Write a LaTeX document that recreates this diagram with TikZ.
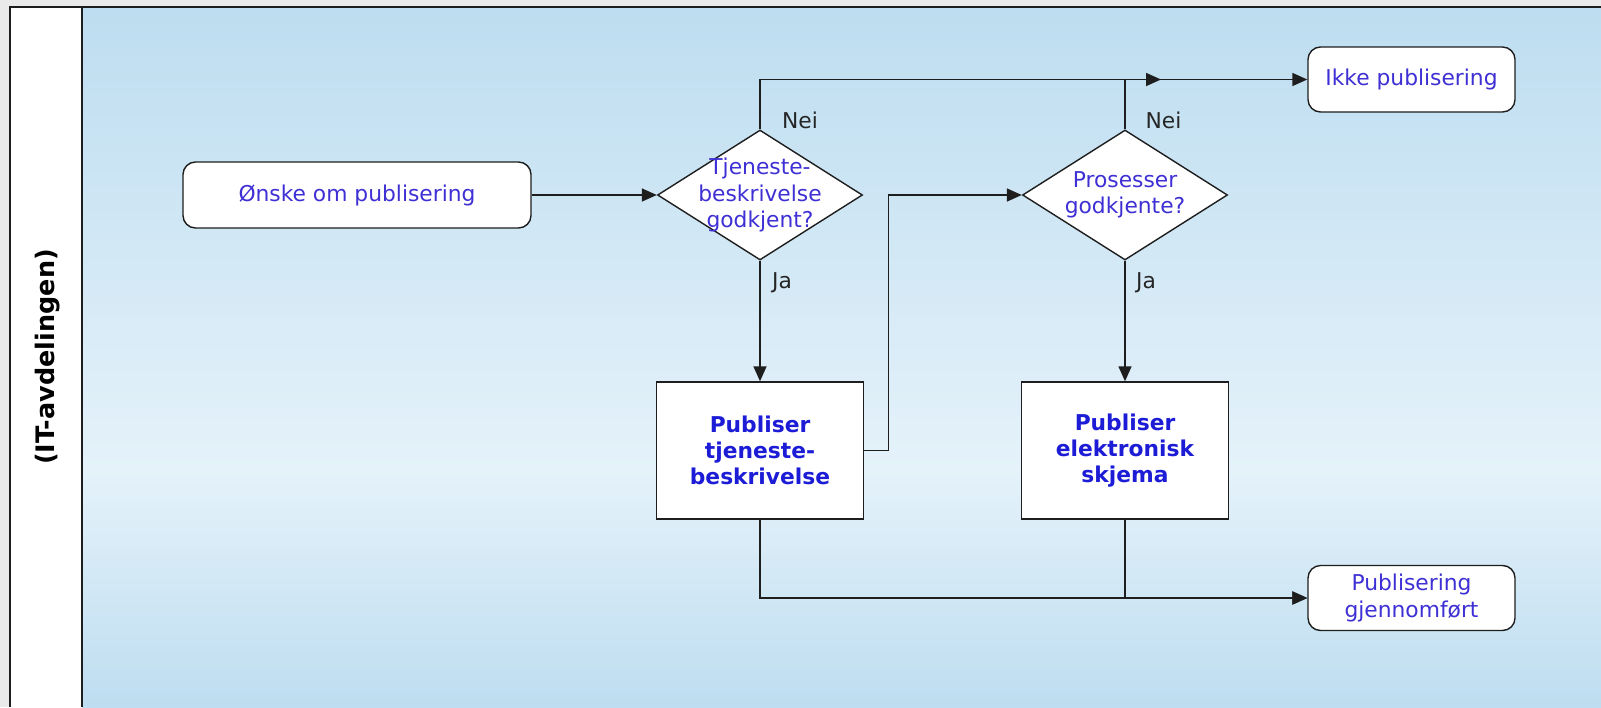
\documentclass[tikz,border=0pt]{standalone}
\usepackage{fontspec}
\setmainfont{DejaVu Sans}
\usetikzlibrary{shapes.geometric,arrows.meta}
\definecolor{pagebg}{RGB}{234,234,234}
\definecolor{lanetop}{RGB}{189,221,240}
\definecolor{lanemid}{RGB}{229,242,250}
\definecolor{txtblue}{RGB}{62,48,212}
\definecolor{boldblue}{RGB}{28,28,215}
\definecolor{linec}{RGB}{30,30,30}

\begin{document}
\begin{tikzpicture}[font=\fontsize{12.4}{15}\selectfont,
    terminal/.style={draw=linec,fill=white,line width=0.8pt,text=txtblue,align=center,
      rounded corners=0.25cm,minimum width=4.14cm,minimum height=1.3cm},
    decision/.style={diamond,draw=linec,fill=white,line width=0.8pt,inner sep=0pt,
      minimum width=4.1cm,minimum height=2.6cm},
    process/.style={draw=linec,fill=white,line width=0.8pt,text=boldblue,align=center,
      font=\fontsize{12.4}{15}\selectfont\bfseries,minimum width=4.15cm,minimum height=2.74cm},
    answer/.style={text=black!85},
    every label/.style={text=txtblue,align=center}]
  \useasboundingbox (0,0) rectangle (32.02,-14.14);
  % lane
  \fill[pagebg] (0,0) rectangle (32.02,-14.14);
  \fill[white] (0.2,-0.14) rectangle (1.64,-14.14);
  \shade[top color=lanetop,bottom color=lanemid] (1.64,-0.14) rectangle (32.02,-9.4);
  \shade[top color=lanemid,bottom color=lanetop] (1.64,-9.4) rectangle (32.02,-14.14);
  \draw[linec,line width=1.2pt] (0.2,-14.14) |- (32.02,-0.14);
  \draw[linec,line width=1.2pt] (1.64,-0.14) -- (1.64,-14.14);
  \node[rotate=90,font=\fontsize{14.5}{16}\selectfont\bfseries] (lane) at (0.96,-7.14) {(IT-avdelingen)};

  \begin{scope}
    \node[terminal,minimum width=6.96cm,minimum height=1.32cm] (start) at (7.14,-3.9) {Ønske om publisering};
    \node[decision,label={center:Tjeneste-\\beskrivelse\\godkjent?}] (d1) at (15.2,-3.9) {};
    \node[decision,label={center:Prosesser\\godkjente?}] (d2) at (22.5,-3.9) {};
    \node[process] (pub1) at (15.2,-9.01) {Publiser\\tjeneste-\\beskrivelse};
    \node[process] (pub2) at (22.5,-9.01) {Publiser\\elektronisk\\skjema};
    \node[terminal] (ikke) at (28.23,-1.59) {Ikke publisering};
    \node[terminal] (done) at (28.23,-11.96) {Publisering\\gjennomført};
    \coordinate (stop1) at (23.22,-1.59);

    \node[answer] (nei1) at (16.0,-2.41) {Nei};
    \node[answer] (ja1) at (15.64,-5.66) {Ja};
    \node[answer] (nei2) at (23.27,-2.41) {Nei};
    \node[answer] (ja2) at (22.92,-5.66) {Ja};
  \end{scope}

  \begin{scope}[every edge/.style={draw=linec,line width=0.9pt,
      -{Triangle[length=0.3cm,width=0.26cm]}}]
    \path (start) edge (d1);
    \path (d1.north) edge[to path={|- (\tikztotarget)}] (stop1);
    \path (d2.north) edge[to path={|- (\tikztotarget)}] (ikke.west);
    \path (d1.south) edge (pub1.north);
    \path (d2.south) edge (pub2.north);
    \path (pub1.east) edge[to path={-- ++(0.48,0) |- (\tikztotarget)}] (d2.west);
    \path (pub1.south) edge[to path={|- (\tikztotarget)}] (done.west);
    \path (pub2.south) edge[to path={|- (\tikztotarget)}] (done.west);
  \end{scope}
\end{tikzpicture}
\end{document}
